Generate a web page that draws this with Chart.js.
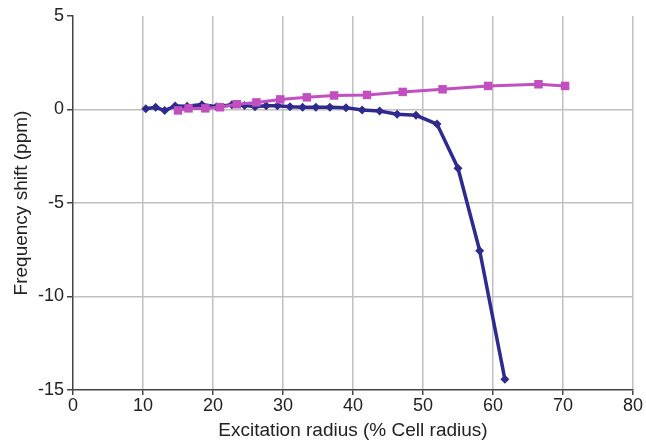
<!DOCTYPE html>
<html>
<head>
<meta charset="utf-8">
<script src="https://cdn.jsdelivr.net/npm/chart.js@4/dist/chart.umd.min.js"></script>
<style>
  html, body { margin: 0; padding: 0; background: #fff; }
  #wrap { width: 646px; height: 442px; }
</style>
</head>
<body>
<div id="wrap"><canvas id="chart" width="646" height="442"></canvas></div>
<script>
// blue series (diamonds)
const blueX = [10.4, 11.8, 13.1, 14.6, 16.3, 18.4, 20.5, 22.7, 24.5, 26.0, 27.6, 29.2, 31.0, 32.8, 34.7, 36.7, 39.0, 41.3, 43.8, 46.3, 49.0, 52.0, 55.0, 58.1, 61.7];
const blueY = [0.04, 0.12, -0.06, 0.19, 0.17, 0.26, 0.15, 0.25, 0.22, 0.15, 0.2, 0.2, 0.15, 0.12, 0.12, 0.12, 0.1, -0.03, -0.08, -0.25, -0.31, -0.78, -3.14, -7.55, -14.43];

// magenta series (squares)
const pinkX = [15.0, 16.5, 18.9, 21.0, 23.4, 26.2, 29.6, 33.4, 37.3, 42.0, 47.1, 52.8, 59.3, 66.5, 70.3];
const pinkY = [-0.05, 0.06, 0.06, 0.12, 0.28, 0.38, 0.54, 0.65, 0.75, 0.78, 0.94, 1.08, 1.26, 1.35, 1.26];

const xTicks = [0, 10, 20, 30, 40, 50, 60, 70, 80];
const yTicks = [5, 0, -5, -10, -15];

const toPoints = (xs, ys) => xs.map((x, i) => ({x, y: ys[i]}));

const fontFam = '"Liberation Sans", Arial, Helvetica, sans-serif';

new Chart(document.getElementById('chart'), {
    type: 'scatter',
    data: {
        datasets: [
            {
                data: toPoints(pinkX, pinkY),
                showLine: true,
                borderColor: '#c24fc0',
                backgroundColor: '#c24fc0',
                borderWidth: 3,
                pointStyle: 'rect',
                pointRadius: 6,
                pointBorderWidth: 0
            },
            {
                data: toPoints(blueX, blueY),
                showLine: true,
                borderColor: '#2f2a8e',
                backgroundColor: '#2f2a8e',
                borderWidth: 3.5,
                pointStyle: 'rectRot',
                pointRadius: 4.5,
                pointBorderWidth: 0
            }
        ]
    },
    options: {
        responsive: false,
        animation: false,
        layout: {padding: {top: 16, right: 13, left: 0, bottom: 0}},
        plugins: {legend: {display: false}, tooltip: {enabled: false}},
        scales: {
            x: {
                type: 'linear',
                min: 0, max: 80,
                afterBuildTicks: s => { s.ticks = xTicks.map(v => ({value: v})); },
                afterFit: s => { s.height = 52; },
                grid: {
                    color: c => c.tick && c.tick.value === 0 ? 'rgba(0,0,0,0)' : '#c0c0c0',
                    lineWidth: 1.5,
                    tickLength: 5,
                    tickColor: '#444'
                },
                border: {color: '#444', width: 1.5},
                ticks: {color: '#222', font: {family: fontFam, size: 18}, padding: 0, maxRotation: 0},
                title: {display: true, text: 'Excitation radius (% Cell radius)', color: '#222',
                    font: {family: fontFam, size: 19}, padding: {top: 1, bottom: 0}}
            },
            y: {
                type: 'linear',
                min: -15, max: 5,
                afterBuildTicks: s => { s.ticks = yTicks.map(v => ({value: v})); },
                afterFit: s => { s.width = 73; },
                grid: {
                    color: c => c.tick && (c.tick.value === 5 || c.tick.value === -15) ? 'rgba(0,0,0,0)' : '#c0c0c0',
                    lineWidth: 1.5,
                    tickLength: 6,
                    tickColor: '#444'
                },
                border: {color: '#444', width: 1.5},
                ticks: {color: '#222', font: {family: fontFam, size: 18}, padding: 3},
                title: {display: true, text: 'Frequency shift (ppm)', color: '#222',
                    font: {family: fontFam, size: 19}, padding: {top: 10, bottom: 0}}
            }
        }
    }
});
</script>
</body>
</html>
